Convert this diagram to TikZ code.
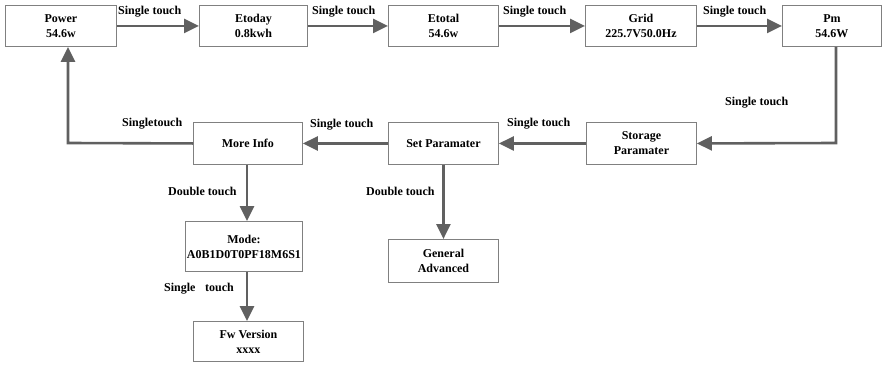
\documentclass[tikz,border=0pt]{standalone}
\usepackage{fontspec}
\setmainfont{Liberation Serif}
\usetikzlibrary{arrows.meta}
\definecolor{linegray}{HTML}{606060}
\definecolor{boxgray}{HTML}{808080}
\tikzset{
  box/.style={draw=boxgray, line width=0.9pt, fill=white, align=center, inner sep=0pt,
    font=\fontsize{12}{15}\selectfont\bfseries, anchor=north west},
  conn/.style={draw=linegray, line width=2.6pt, -{Triangle[length=15pt,width=14pt]}},
  lab/.style={font=\fontsize{12}{14}\selectfont\bfseries, inner sep=0pt, anchor=west}
}
\begin{document}
\begin{tikzpicture}[x=1pt,y=-1pt]
\useasboundingbox (0,0) rectangle (883,364);
% top row
\node[box, minimum width=111pt, minimum height=41pt] (power) at (5,5) {Power\\54.6w};
\node[box, minimum width=108pt, minimum height=41pt] (etoday) at (199,5) {Etoday\\0.8kwh};
\node[box, minimum width=110pt, minimum height=41pt] (etotal) at (388,5) {Etotal\\54.6w};
\node[box, minimum width=111pt, minimum height=41pt] (grid) at (585,5) {Grid\\225.7V50.0Hz};
\node[box, minimum width=99pt, minimum height=41pt] (pm) at (782,5) {Pm\\54.6W};
% middle row
\node[box, minimum width=110pt, minimum height=42pt] (storage) at (586,122) {Storage\\Paramater};
\node[box, minimum width=110pt, minimum height=42pt] (setp) at (388,122) {Set Paramater};
\node[box, minimum width=109pt, minimum height=42pt] (more) at (193,122) {More Info};
% lower
\node[box, minimum width=117pt, minimum height=50pt] (mode) at (185,221) {Mode:\\A0B1D0T0PF18M6S1};
\node[box, minimum width=110pt, minimum height=40pt] (fw) at (193,321) {Fw Version\\xxxx};
\node[box, minimum width=110pt, minimum height=43pt] (general) at (388,239) {General\\Advanced};
% coordinates
\coordinate (c1) at (836,143);
\coordinate (c2) at (68,143);
% connectors
\draw[conn] (power.east) -- (etoday.west);
\draw[conn] (etoday.east) -- (etotal.west);
\draw[conn] (etotal.east) -- (grid.west);
\draw[conn] (grid.east) -- (pm.west);
\draw[conn] (pm.south -| c1) -- (c1) -- (storage.east);
\draw[conn] (storage.west) -- (setp.west -| setp.east);
\draw[conn] (setp.west) -- (more.east);
\draw[conn] (more.west) -- (c2) -- (c2 |- power.south);
\draw[conn] (more.south -| 247,0) -- (mode.north -| 247,0);
\draw[conn] (mode.south -| 247,0) -- (fw.north -| 247,0);
\draw[conn] (setp.south) -- (general.north);
% labels
\node[lab] (l1) at (118,12) {Single touch};
\node[lab] (l2) at (312,12) {Single touch};
\node[lab] (l3) at (503,12) {Single touch};
\node[lab] (l4) at (703,12) {Single touch};
\node[lab] (l5) at (725,103) {Single touch};
\node[lab] (l6) at (507,124) {Single touch};
\node[lab] (l7) at (310,125) {Single touch};
\node[lab] (l8) at (122,124) {Singletouch};
\node[lab] (l9) at (168,191) {Double touch};
\node[lab] (l10) at (366,191) {Double touch};
\node[lab] (l11) at (164,289) {Single\hspace{0.8em}touch};
\end{tikzpicture}
\end{document}
